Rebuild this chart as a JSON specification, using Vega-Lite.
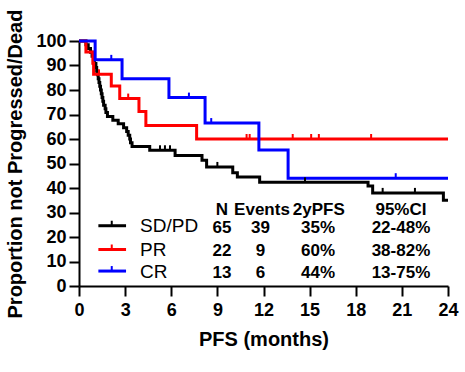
{
  "$schema": "https://vega.github.io/schema/vega-lite/v6.json",
  "width": 369,
  "height": 245,
  "autosize": "none",
  "padding": {"left": 79, "top": 41, "right": 17, "bottom": 86},
  "background": "white",
  "config": {
    "view": {"stroke": null},
    "font": "Liberation Sans",
    "axis": {
      "grid": false,
      "domainColor": "black",
      "domainWidth": 2,
      "tickColor": "black",
      "tickWidth": 2,
      "tickSize": 10,
      "labelColor": "black",
      "labelFont": "Liberation Sans",
      "labelFontSize": 18,
      "labelFontWeight": "bold",
      "labelFlush": false,
      "labelOverlap": false,
      "titleColor": "black",
      "titleFont": "Liberation Sans",
      "titleFontSize": 20,
      "titleFontWeight": "bold"
    }
  },
  "datasets": {
    "km": [
      {"g": "SD/PD", "t": 0, "s": 100},
      {"g": "SD/PD", "t": 0.45, "s": 98.5},
      {"g": "SD/PD", "t": 0.6, "s": 96.9},
      {"g": "SD/PD", "t": 0.75, "s": 95.4},
      {"g": "SD/PD", "t": 0.85, "s": 93.8},
      {"g": "SD/PD", "t": 0.95, "s": 92.3},
      {"g": "SD/PD", "t": 1.0, "s": 90.8},
      {"g": "SD/PD", "t": 1.1, "s": 89.2},
      {"g": "SD/PD", "t": 1.15, "s": 87.7},
      {"g": "SD/PD", "t": 1.2, "s": 86.2},
      {"g": "SD/PD", "t": 1.25, "s": 84.6},
      {"g": "SD/PD", "t": 1.3, "s": 83.1},
      {"g": "SD/PD", "t": 1.35, "s": 81.5},
      {"g": "SD/PD", "t": 1.4, "s": 80.0},
      {"g": "SD/PD", "t": 1.45, "s": 78.5},
      {"g": "SD/PD", "t": 1.5, "s": 76.9},
      {"g": "SD/PD", "t": 1.55, "s": 75.4},
      {"g": "SD/PD", "t": 1.6, "s": 73.8},
      {"g": "SD/PD", "t": 1.7, "s": 72.3},
      {"g": "SD/PD", "t": 1.75, "s": 70.8},
      {"g": "SD/PD", "t": 1.85, "s": 69.2},
      {"g": "SD/PD", "t": 2.2, "s": 67.7},
      {"g": "SD/PD", "t": 2.55, "s": 66.2},
      {"g": "SD/PD", "t": 2.9, "s": 64.6},
      {"g": "SD/PD", "t": 3.1, "s": 63.1},
      {"g": "SD/PD", "t": 3.2, "s": 61.5},
      {"g": "SD/PD", "t": 3.3, "s": 60.0},
      {"g": "SD/PD", "t": 3.35, "s": 58.5},
      {"g": "SD/PD", "t": 3.45, "s": 56.9},
      {"g": "SD/PD", "t": 4.6, "s": 55.4},
      {"g": "SD/PD", "t": 6.25, "s": 53.3},
      {"g": "SD/PD", "t": 8.0, "s": 51.3},
      {"g": "SD/PD", "t": 8.3, "s": 48.6},
      {"g": "SD/PD", "t": 10.0, "s": 46.2},
      {"g": "SD/PD", "t": 10.3, "s": 44.5},
      {"g": "SD/PD", "t": 11.75, "s": 42.3},
      {"g": "SD/PD", "t": 18.8, "s": 40.8},
      {"g": "SD/PD", "t": 19.1, "s": 38.0},
      {"g": "SD/PD", "t": 23.7, "s": 35.0},
      {"g": "SD/PD", "t": 24, "s": 35.0},
      {"g": "PR", "t": 0, "s": 100},
      {"g": "PR", "t": 0.45, "s": 95.5},
      {"g": "PR", "t": 0.9, "s": 90.9},
      {"g": "PR", "t": 0.95, "s": 86.4},
      {"g": "PR", "t": 2.1, "s": 81.6},
      {"g": "PR", "t": 2.65, "s": 76.5},
      {"g": "PR", "t": 3.9, "s": 71.2},
      {"g": "PR", "t": 4.35, "s": 65.5},
      {"g": "PR", "t": 7.65, "s": 60.0},
      {"g": "PR", "t": 24, "s": 60.0},
      {"g": "CR", "t": 0, "s": 100},
      {"g": "CR", "t": 1.05, "s": 92.3},
      {"g": "CR", "t": 2.8, "s": 84.6},
      {"g": "CR", "t": 5.85, "s": 76.9},
      {"g": "CR", "t": 8.2, "s": 66.5},
      {"g": "CR", "t": 11.7, "s": 55.5},
      {"g": "CR", "t": 13.6, "s": 44.0},
      {"g": "CR", "t": 24, "s": 44.0}
    ],
    "censor": [
      {"g": "SD/PD", "t": 5.27, "s": 55.4},
      {"g": "SD/PD", "t": 5.59, "s": 55.4},
      {"g": "SD/PD", "t": 5.92, "s": 55.4},
      {"g": "SD/PD", "t": 9.0, "s": 48.6},
      {"g": "SD/PD", "t": 14.7, "s": 42.3},
      {"g": "SD/PD", "t": 19.75, "s": 38.0},
      {"g": "SD/PD", "t": 21.85, "s": 38.0},
      {"g": "PR", "t": 1.3, "s": 86.4},
      {"g": "PR", "t": 3.2, "s": 76.5},
      {"g": "PR", "t": 10.9, "s": 60.0},
      {"g": "PR", "t": 11.1, "s": 60.0},
      {"g": "PR", "t": 13.9, "s": 60.0},
      {"g": "PR", "t": 15.1, "s": 60.0},
      {"g": "PR", "t": 15.6, "s": 60.0},
      {"g": "PR", "t": 19.0, "s": 60.0},
      {"g": "CR", "t": 2.1, "s": 92.3},
      {"g": "CR", "t": 7.15, "s": 76.9},
      {"g": "CR", "t": 8.6, "s": 66.5},
      {"g": "CR", "t": 20.6, "s": 44.0}
    ],
    "legend": [
      {"g": "SD/PD", "x1": 1.26, "x2": 3.06, "xm": 2.13, "xt": 3.97, "y": 24.6, "ty": 24.4},
      {"g": "PR", "x1": 1.26, "x2": 3.06, "xm": 2.13, "xt": 3.97, "y": 14.9, "ty": 14.7},
      {"g": "CR", "x1": 1.26, "x2": 3.06, "xm": 2.13, "xt": 3.97, "y": 6.1, "ty": 5.6}
    ],
    "table": [
      {"x": 9.3, "y": 30.9, "text": "N"},
      {"x": 11.9, "y": 30.9, "text": "Events"},
      {"x": 15.6, "y": 30.9, "text": "2yPFS"},
      {"x": 20.94, "y": 30.9, "text": "95%CI"},
      {"x": 9.3, "y": 23.6, "text": "65"},
      {"x": 11.8, "y": 23.6, "text": "39"},
      {"x": 15.55, "y": 23.6, "text": "35%"},
      {"x": 20.94, "y": 23.6, "text": "22-48%"},
      {"x": 9.3, "y": 14.4, "text": "22"},
      {"x": 11.8, "y": 14.4, "text": "9"},
      {"x": 15.55, "y": 14.4, "text": "60%"},
      {"x": 20.94, "y": 14.4, "text": "38-82%"},
      {"x": 9.3, "y": 5.2, "text": "13"},
      {"x": 11.8, "y": 5.2, "text": "6"},
      {"x": 15.55, "y": 5.2, "text": "44%"},
      {"x": 20.94, "y": 5.2, "text": "13-75%"}
    ]
  },
  "layer": [
    {
      "data": {"name": "km"},
      "mark": {"type": "line", "interpolate": "step-after", "strokeWidth": 3},
      "encoding": {
        "x": {"field": "t", "type": "quantitative", "scale": {"domain": [0, 24], "nice": false},
              "axis": {"title": "PFS (months)", "values": [0, 3, 6, 9, 12, 15, 18, 21, 24], "labelPadding": 5, "titlePadding": 10}},
        "y": {"field": "s", "type": "quantitative", "scale": {"domain": [0, 100], "nice": false},
              "axis": {"title": "Proportion not Progressed/Dead", "values": [0, 10, 20, 30, 40, 50, 60, 70, 80, 90, 100], "labelPadding": 3, "titlePadding": 10}},
        "color": {"field": "g", "type": "nominal", "scale": {"domain": ["SD/PD", "PR", "CR"], "range": ["#000000", "#ff0000", "#0000ff"]}, "legend": null}
      }
    },
    {
      "data": {"name": "censor"},
      "mark": {"type": "point", "shape": "M0,-1L0,0", "filled": false, "strokeWidth": 2, "size": 100, "opacity": 1},
      "encoding": {
        "x": {"field": "t", "type": "quantitative", "scale": {"domain": [0, 24], "nice": false},
              "axis": {"title": "PFS (months)", "values": [0, 3, 6, 9, 12, 15, 18, 21, 24], "labelPadding": 5, "titlePadding": 10}},
        "y": {"field": "s", "type": "quantitative", "scale": {"domain": [0, 100], "nice": false},
              "axis": {"title": "Proportion not Progressed/Dead", "values": [0, 10, 20, 30, 40, 50, 60, 70, 80, 90, 100], "labelPadding": 3, "titlePadding": 10}},
        "color": {"field": "g", "type": "nominal", "scale": {"domain": ["SD/PD", "PR", "CR"], "range": ["#000000", "#ff0000", "#0000ff"]}, "legend": null}
      }
    },
    {
      "data": {"name": "legend"},
      "mark": {"type": "rule", "strokeWidth": 3},
      "encoding": {
        "x": {"field": "x1", "type": "quantitative", "scale": {"domain": [0, 24], "nice": false},
              "axis": {"title": "PFS (months)", "values": [0, 3, 6, 9, 12, 15, 18, 21, 24], "labelPadding": 5, "titlePadding": 10}},
        "x2": {"field": "x2"},
        "y": {"field": "y", "type": "quantitative", "scale": {"domain": [0, 100], "nice": false},
              "axis": {"title": "Proportion not Progressed/Dead", "values": [0, 10, 20, 30, 40, 50, 60, 70, 80, 90, 100], "labelPadding": 3, "titlePadding": 10}},
        "color": {"field": "g", "type": "nominal", "scale": {"domain": ["SD/PD", "PR", "CR"], "range": ["#000000", "#ff0000", "#0000ff"]}, "legend": null}
      }
    },
    {
      "data": {"name": "legend"},
      "mark": {"type": "point", "shape": "M0,-1L0,0", "filled": false, "strokeWidth": 2, "size": 100, "opacity": 1},
      "encoding": {
        "x": {"field": "xm", "type": "quantitative", "scale": {"domain": [0, 24], "nice": false},
              "axis": {"title": "PFS (months)", "values": [0, 3, 6, 9, 12, 15, 18, 21, 24], "labelPadding": 5, "titlePadding": 10}},
        "y": {"field": "y", "type": "quantitative", "scale": {"domain": [0, 100], "nice": false},
              "axis": {"title": "Proportion not Progressed/Dead", "values": [0, 10, 20, 30, 40, 50, 60, 70, 80, 90, 100], "labelPadding": 3, "titlePadding": 10}},
        "color": {"field": "g", "type": "nominal", "scale": {"domain": ["SD/PD", "PR", "CR"], "range": ["#000000", "#ff0000", "#0000ff"]}, "legend": null}
      }
    },
    {
      "data": {"name": "legend"},
      "mark": {"type": "text", "align": "left", "baseline": "middle", "fontSize": 19, "font": "Liberation Sans", "color": "black"},
      "encoding": {
        "x": {"field": "xt", "type": "quantitative", "scale": {"domain": [0, 24], "nice": false},
              "axis": {"title": "PFS (months)", "values": [0, 3, 6, 9, 12, 15, 18, 21, 24], "labelPadding": 5, "titlePadding": 10}},
        "y": {"field": "ty", "type": "quantitative", "scale": {"domain": [0, 100], "nice": false},
              "axis": {"title": "Proportion not Progressed/Dead", "values": [0, 10, 20, 30, 40, 50, 60, 70, 80, 90, 100], "labelPadding": 3, "titlePadding": 10}},
        "text": {"field": "g"}
      }
    },
    {
      "data": {"name": "table"},
      "mark": {"type": "text", "align": "center", "baseline": "middle", "fontSize": 17, "fontWeight": "bold", "font": "Liberation Sans", "color": "black"},
      "encoding": {
        "x": {"field": "x", "type": "quantitative", "scale": {"domain": [0, 24], "nice": false},
              "axis": {"title": "PFS (months)", "values": [0, 3, 6, 9, 12, 15, 18, 21, 24], "labelPadding": 5, "titlePadding": 10}},
        "y": {"field": "y", "type": "quantitative", "scale": {"domain": [0, 100], "nice": false},
              "axis": {"title": "Proportion not Progressed/Dead", "values": [0, 10, 20, 30, 40, 50, 60, 70, 80, 90, 100], "labelPadding": 3, "titlePadding": 10}},
        "text": {"field": "text"}
      }
    }
  ]
}
